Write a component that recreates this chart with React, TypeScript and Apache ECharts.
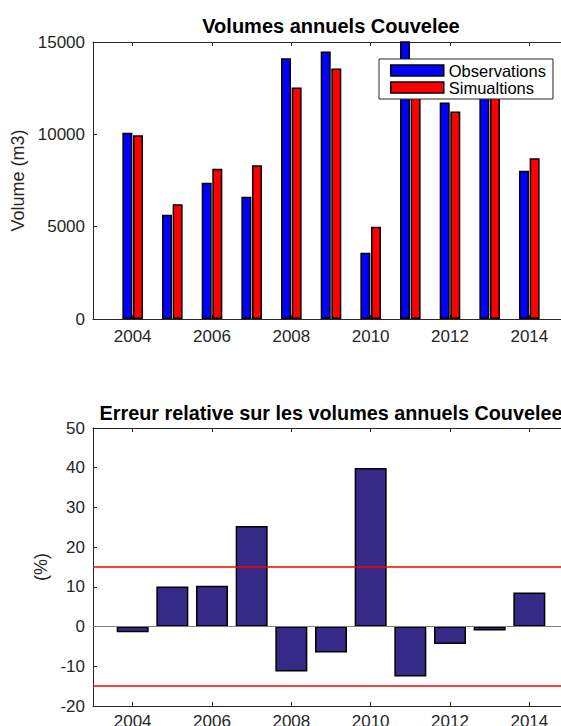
import { useEffect, useRef } from 'react';
import * as echarts from 'echarts';

// ---- data ----
const years = [2004, 2005, 2006, 2007, 2008, 2009, 2010, 2011, 2012, 2013, 2014];
const axisYears = ['2003', '2004', '2005', '2006', '2007', '2008', '2009', '2010', '2011', '2012', '2013', '2014', '2015'];
const observations = [10090, 5650, 7380, 6625, 14120, 14480, 3590, 15450, 11730, 13200, 8030];
const simulations = [9950, 6220, 8130, 8320, 12530, 13570, 5000, 13500, 11230, 13070, 8700];
const relativeError = [-1.4, 10.1, 10.3, 25.3, -11.3, -6.5, 39.9, -12.6, -4.4, -1.0, 8.6];
const errorLimits = [15, -15];

const FONT = "'Liberation Sans', Arial, Helvetica, sans-serif";
const AXIS_COLOR = '#262626';

function padToAxis(values: number[]): (number | null)[] {
  const out: (number | null)[] = axisYears.map(() => null);
  years.forEach((y, i) => {
    const idx = axisYears.indexOf(String(y));
    if (idx >= 0) out[idx] = values[i];
  });
  return out;
}

const evenYear = (_i: number, v: string) => Number(v) % 2 === 0;

function xAxes(gridIndex: number, labelMargin: number) {
  return [
    {
      type: 'category',
      gridIndex,
      data: axisYears,
      boundaryGap: false,
      position: 'bottom',
      axisLine: { onZero: false, lineStyle: { color: AXIS_COLOR, width: 1 } },
      axisTick: { inside: true, length: 4, interval: evenYear, lineStyle: { color: AXIS_COLOR } },
      axisLabel: { interval: evenYear, margin: labelMargin, fontSize: 17, fontFamily: FONT, color: AXIS_COLOR },
      splitLine: { show: false },
    },
    {
      type: 'category',
      gridIndex,
      data: axisYears,
      boundaryGap: false,
      position: 'top',
      axisLine: { onZero: false, lineStyle: { color: AXIS_COLOR, width: 1 } },
      axisTick: { inside: true, length: 4, interval: evenYear, lineStyle: { color: AXIS_COLOR } },
      axisLabel: { show: false },
      splitLine: { show: false },
    },
  ];
}

const plainNumber = (v: number) => String(v);

export default function App() {
  const ref = useRef<HTMLDivElement>(null);

  useEffect(() => {
    if (!ref.current) return;
    const chart = echarts.init(ref.current, null, { renderer: 'svg' });

    const option: any = {
      animation: false,
      backgroundColor: '#ffffff',
      textStyle: { fontFamily: FONT },
      graphic: [
        {
          type: 'text',
          x: 331,
          y: 26,
          style: {
            text: 'Volumes annuels Couvelee',
            align: 'center',
            verticalAlign: 'middle',
            font: `bold 20px ${FONT}`,
            fill: '#000',
          },
        },
        {
          type: 'text',
          x: 331,
          y: 413,
          style: {
            text: 'Erreur relative sur les volumes annuels Couvelee',
            align: 'center',
            verticalAlign: 'middle',
            font: `bold 19.8px ${FONT}`,
            fill: '#000',
          },
        },
      ],
      grid: [
        { left: 93, top: 42, width: 476, height: 277, outerBoundsMode: 'none', containLabel: false },
        { left: 93, top: 428, width: 476, height: 278, outerBoundsMode: 'none', containLabel: false },
      ],
      legend: {
        data: ['Observations', 'Simualtions'],
        orient: 'vertical',
        left: 379,
        top: 59,
        padding: [3, 7, 3, 11],
        itemWidth: 53,
        itemHeight: 11,
        itemGap: 0,
        itemTextGap: 5,
        icon: 'rect',
        backgroundColor: '#ffffff',
        borderColor: AXIS_COLOR,
        borderWidth: 1,
        itemStyle: { borderColor: '#000', borderWidth: 1.5 },
        textStyle: { fontSize: 16.5, lineHeight: 15, fontFamily: FONT, color: '#000' },
        z: 10,
      },
      xAxis: [...xAxes(0, 9), ...xAxes(1, 7)],
      yAxis: [
        {
          type: 'value',
          gridIndex: 0,
          min: 0,
          max: 15000,
          interval: 5000,
          name: 'Volume (m3)',
          nameLocation: 'middle',
          nameGap: 58,
          nameTextStyle: { fontSize: 18, fontFamily: FONT, color: AXIS_COLOR },
          axisLine: { show: true, lineStyle: { color: AXIS_COLOR, width: 1 } },
          axisTick: { show: true, inside: true, length: 4, lineStyle: { color: AXIS_COLOR } },
          axisLabel: { margin: 8, fontSize: 17, fontFamily: FONT, color: AXIS_COLOR, formatter: plainNumber },
          splitLine: { show: false },
        },
        {
          type: 'value',
          gridIndex: 1,
          min: -20,
          max: 50,
          interval: 10,
          name: '(%)',
          nameLocation: 'middle',
          nameGap: 36,
          nameTextStyle: { fontSize: 18, fontFamily: FONT, color: AXIS_COLOR },
          axisLine: { show: true, onZero: false, lineStyle: { color: AXIS_COLOR, width: 1 } },
          axisTick: { show: true, inside: true, length: 4, lineStyle: { color: AXIS_COLOR } },
          axisLabel: { margin: 8, fontSize: 17, fontFamily: FONT, color: AXIS_COLOR, formatter: plainNumber },
          splitLine: { show: false },
        },
      ],
      series: [
        {
          name: 'Observations',
          type: 'bar',
          xAxisIndex: 0,
          yAxisIndex: 0,
          data: padToAxis(observations),
          barWidth: 10,
          barGap: '6%',
          clip: true,
          itemStyle: { color: '#0000ff', borderColor: '#000', borderWidth: 1.5 },
        },
        {
          name: 'Simualtions',
          type: 'bar',
          xAxisIndex: 0,
          yAxisIndex: 0,
          data: padToAxis(simulations),
          barWidth: 10,
          barGap: '6%',
          clip: true,
          itemStyle: { color: '#ff0000', borderColor: '#000', borderWidth: 1.5 },
        },
        {
          name: 'Erreur relative',
          type: 'bar',
          xAxisIndex: 2,
          yAxisIndex: 1,
          data: padToAxis(relativeError),
          barWidth: 32,
          clip: true,
          itemStyle: { color: '#352a87', borderColor: '#000', borderWidth: 1.5 },
          markLine: {
            silent: true,
            symbol: ['none', 'none'],
            label: { show: false },
            data: [
              { yAxis: 0, lineStyle: { color: '#808080', width: 1, type: 'solid' } },
              ...errorLimits.map((v) => ({ yAxis: v, lineStyle: { color: '#ff0000', width: 1.5, type: 'solid' } })),
            ],
          },
        },
      ],
    };

    chart.setOption(option);
    return () => chart.dispose();
  }, []);

  return (
    <div
      ref={ref}
      style={{ position: 'fixed', left: 0, top: 0, width: 561, height: 726, background: '#fff' }}
    />
  );
}
